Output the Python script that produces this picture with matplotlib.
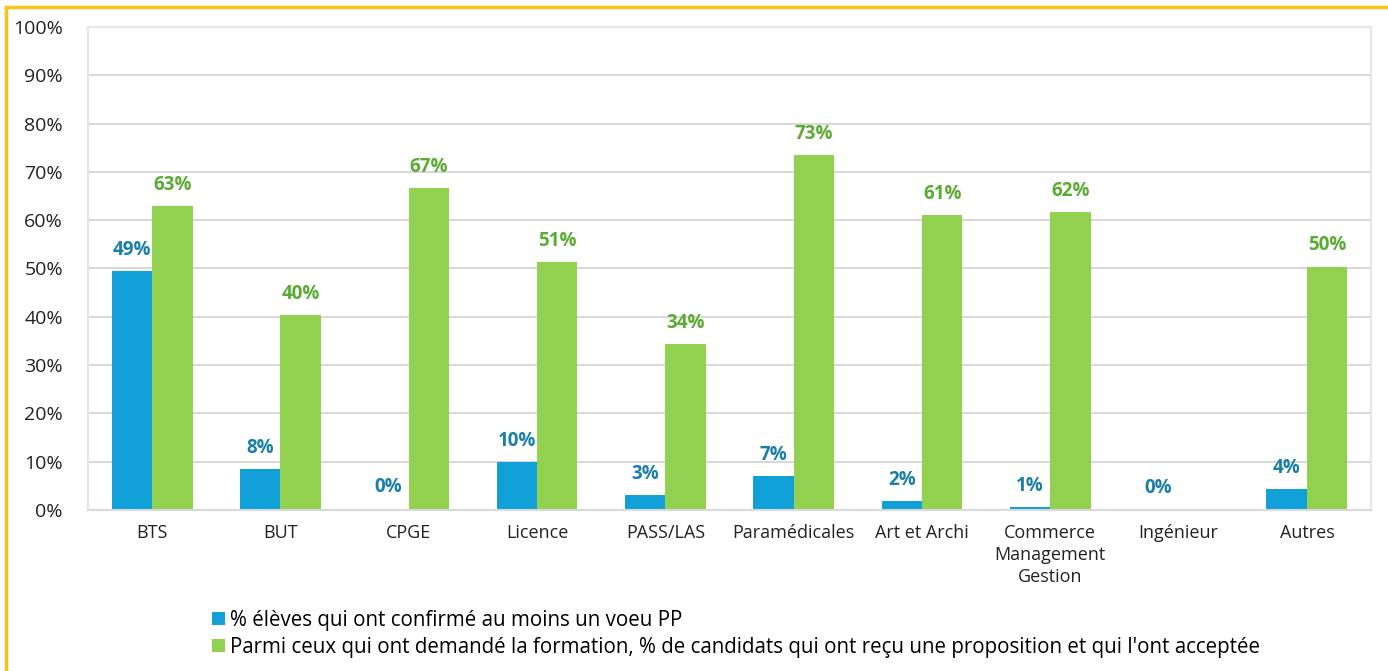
import matplotlib
matplotlib.use("Agg")
import matplotlib.pyplot as plt
import numpy as np
from matplotlib.lines import Line2D

plt.rcParams["font.family"] = ["Open Sans", "DejaVu Sans"]

categories = ["BTS", "BUT", "CPGE", "Licence", "PASS/LAS", "Paramédicales",
              "Art et Archi", "Commerce\nManagement\nGestion", "Ingénieur", "Autres"]
confirmed = [49.4, 8.4, 0.3, 10.0, 3.1, 7.1, 1.9, 0.6, 0.1, 4.3]
accepted = [62.9, 40.4, 66.6, 51.4, 34.4, 73.4, 61.0, 61.6, np.nan, 50.4]
yticks = [0, 10, 20, 30, 40, 50, 60, 70, 80, 90, 100]

legend_labels = [
    "% élèves qui ont confirmé au moins un voeu PP",
    "Parmi ceux qui ont demandé la formation, % de candidats qui ont reçu une proposition et qui l'ont acceptée",
]

BLUE = "#11a0d7"
GREEN = "#92d050"
BLUE_TXT = "#1a7fa8"
GREEN_TXT = "#5aab32"
GRID = "#d9d9d9"

fig = plt.figure(figsize=(13.88, 6.71), dpi=100)
ax = fig.add_axes([0.0634, 0.240, 0.9244, 0.7198])

x = np.arange(len(categories))
w = 0.315
ax.bar(x - w / 2, confirmed, w, color=BLUE, label=legend_labels[0])
ax.bar(x + w / 2, np.nan_to_num(accepted), w, color=GREEN, label=legend_labels[1])

for xi, v in zip(x, confirmed):
    ax.annotate(f"{round(v):.0f}%", (xi - w / 2, v), textcoords="offset points",
                xytext=(0, 8), ha="center", va="bottom", fontsize=13.5,
                fontweight="bold", color=BLUE_TXT)
for xi, v in zip(x, accepted):
    if np.isnan(v):
        continue
    ax.annotate(f"{round(v):.0f}%", (xi + w / 2, v), textcoords="offset points",
                xytext=(0, 8), ha="center", va="bottom", fontsize=13.5,
                fontweight="bold", color=GREEN_TXT)

ax.set_xlim(-0.5, len(categories) - 0.5)
ax.set_ylim(0, 100)
ax.set_yticks(yticks)
ax.set_yticklabels([f"{t}%" for t in yticks], fontsize=14, color="#222222")
ax.set_xticks(x)
ax.set_xticklabels(categories, fontsize=13, color="#222222", linespacing=1.3)
ax.tick_params(axis="both", length=0)
ax.tick_params(axis="x", pad=10)
ax.tick_params(axis="y", pad=18)
ax.grid(axis="y", color=GRID, lw=1.5)
ax.set_axisbelow(True)
for s in ["left", "right", "top"]:
    ax.spines[s].set_color("#e6e6e6")
    ax.spines[s].set_linewidth(1.5)
ax.spines["bottom"].set_color(GRID)
ax.spines["bottom"].set_linewidth(1.5)

ax.legend(loc="upper left", bbox_to_anchor=(0.0905, -0.19), frameon=False,
          fontsize=14.8, handlelength=0.6, handleheight=0.6, handletextpad=0.25,
          labelspacing=0.3, borderaxespad=0)

# yellow frame (left and top edges)
fig.add_artist(Line2D([0.0043, 0.0043], [0, 0.99], transform=fig.transFigure,
                      color="#fbc21a", lw=2.5))
fig.add_artist(Line2D([0.0043, 1.0], [0.99, 0.99], transform=fig.transFigure,
                      color="#fbc21a", lw=2.5))

fig.savefig("out.png", dpi=100, facecolor="white")
